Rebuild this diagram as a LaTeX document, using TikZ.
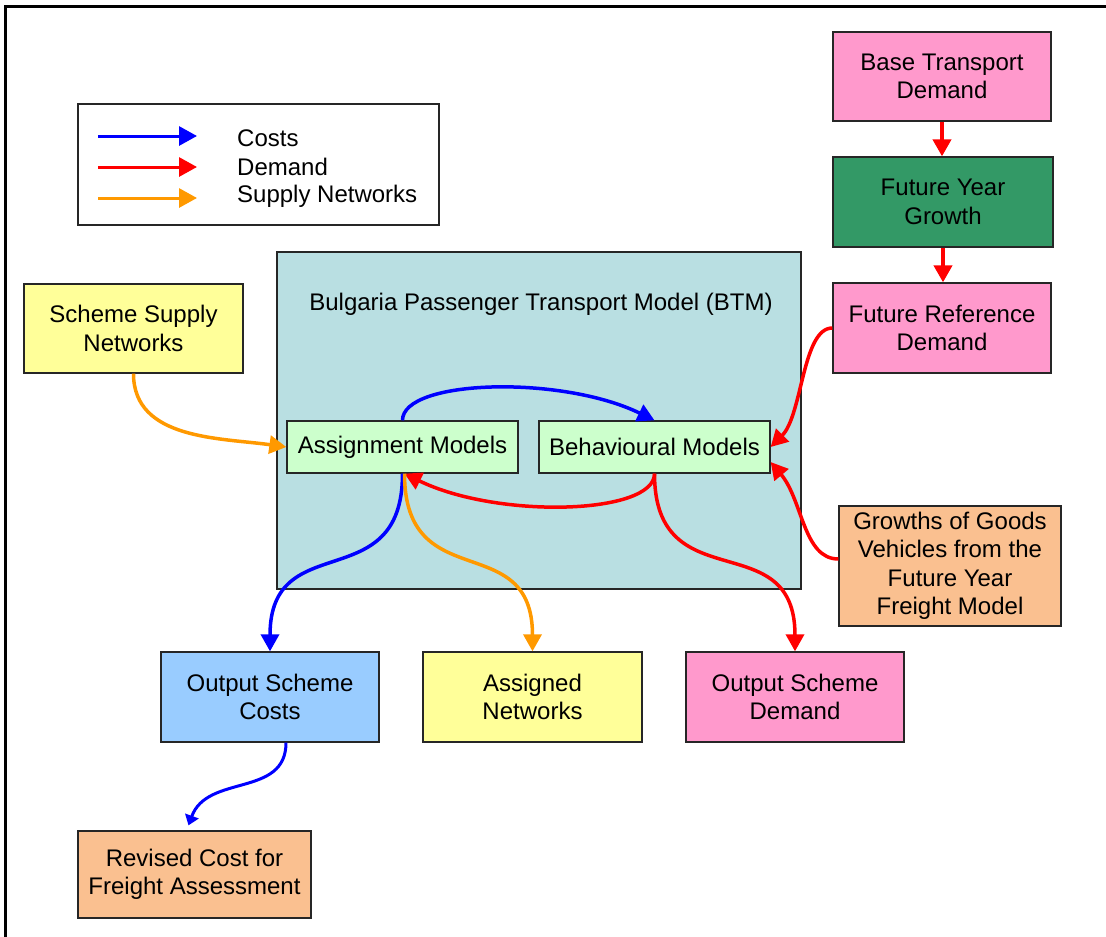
\documentclass[tikz,border=0pt]{standalone}
\usepackage{fontspec}
\setmainfont{Liberation Sans}
\usetikzlibrary{arrows.meta}

\definecolor{demandpink}{HTML}{FF99CC}
\definecolor{growthgreen}{HTML}{339966}
\definecolor{modelteal}{RGB}{185,223,226}
\definecolor{submodel}{HTML}{CCFFCC}
\definecolor{netyellow}{HTML}{FFFF99}
\definecolor{freightorange}{HTML}{FAC090}
\definecolor{costblue}{HTML}{99CCFF}
\definecolor{costline}{HTML}{0000FF}
\definecolor{demandline}{HTML}{FF0000}
\definecolor{supplyline}{HTML}{FF9900}

\begin{document}
\begin{tikzpicture}[x=1pt,y=1pt,
  txt/.style={font=\fontsize{24}{28.5}\selectfont},
  box/.style={draw=black!85, line width=1.3pt, align=center, inner sep=0pt, txt},
  sz/.style 2 args={minimum width=#1pt, minimum height=#2pt},
  conn/.style={line width=3.5pt, -{Triangle[length=17pt,width=18pt]}},
  smallconn/.style={line width=3pt, -{Triangle[length=10pt,width=14pt]}},
  key/.style={line width=3pt, -{Triangle[length=18pt,width=19pt]}},
]
\useasboundingbox (0,0) rectangle (1106,-937);

% page frame (open on the right and bottom)
\draw[line width=3pt] (5.5,-937) -- (5.5,-6.5) -- (1106,-6.5);

% legend
\node[draw=black!85, line width=1.5pt, sz={361}{121}] (legend) at (258.5,-164.5) {};
\coordinate (k1a) at (98,-136);  \coordinate (k1b) at (197,-136);
\coordinate (k2a) at (98,-167);  \coordinate (k2b) at (197,-167);
\coordinate (k3a) at (98,-198);  \coordinate (k3b) at (197,-198);
\draw[key, costline]   (k1a) -- (k1b);
\draw[key, demandline] (k2a) -- (k2b);
\draw[key, supplyline] (k3a) -- (k3b);
\node[txt, anchor=west, inner sep=0pt] (kcost)   at (237,-138) {Costs};
\node[txt, anchor=west, inner sep=0pt] (kdemand) at (237,-167) {Demand};
\node[txt, anchor=west, inner sep=0pt] (ksupply) at (237,-196) {Supply Networks};

% demand chain on the right
\node[box, fill=demandpink,  sz={218}{89}] (base)   at (942,-76.5) {Base Transport\\Demand};
\node[box, fill=growthgreen, sz={220}{90}] (growth) at (943,-202)  {Future Year\\Growth};
\node[box, fill=demandpink,  sz={218}{90}] (fref)   at (942,-328)  {Future Reference\\Demand};
\draw[conn, demandline, line width=4pt] (base.south) -- (base.south |- growth.north);
\draw[conn, demandline, line width=4pt] (growth.south) -- (growth.south |- fref.north);

% transport model and its sub-models
\node[box, fill=modelteal, sz={524}{337}] (btm) at (539,-420.5) {};
\node[txt] (btmlabel) at (541,-304) {Bulgaria Passenger Transport Model (BTM)};
\node[box, fill=submodel, sz={231}{52}] (assign) at (402.5,-447) {Assignment Models};
\node[box, fill=submodel, sz={231}{52}] (behav)  at (654.5,-447) {Behavioural Models};

% inputs
\node[box, fill=netyellow,     sz={219}{89}]  (scheme)  at (133.5,-328.5) {Scheme Supply\\Networks};
\node[box, fill=freightorange, sz={222}{120}] (goods)   at (950,-566)     {Growths of Goods\\Vehicles from the\\Future Year\\Freight Model};

% outputs
\node[box, fill=costblue,      sz={218}{90}] (outcost)   at (270,-697)   {Output Scheme\\Costs};
\node[box, fill=netyellow,     sz={219}{90}] (assigned)  at (532.5,-697) {Assigned\\Networks};
\node[box, fill=demandpink,    sz={218}{90}] (outdemand) at (795,-697)   {Output Scheme\\Demand};
\node[box, fill=freightorange, sz={233}{87}] (revised)   at (194.5,-874.5) {Revised Cost for\\Freight Assessment};

% connectors
\draw[conn, supplyline] (scheme.south) to[out=-90, in=172] (assign.west);
\draw[conn, costline] (assign.north) to[out=90, in=154, out distance=41pt, in distance=104pt] (behav.north);
\draw[conn, demandline] (behav.south) to[out=-90, in=-26, out distance=41pt, in distance=104pt] ([xshift=2pt]assign.south);
\draw[conn, costline] (assign.south) to[out=-90, in=90, looseness=1.45] (outcost.north);
\draw[conn, supplyline] ([xshift=2pt]assign.south) to[out=-90, in=90, looseness=1.45] (assigned.north);
\draw[conn, demandline] (behav.south) to[out=-90, in=90, looseness=1.45] (outdemand.north);
\draw[conn, demandline] (fref.west) to[out=180, in=45, out distance=30pt, in distance=45pt] (behav.east);
\draw[conn, demandline] ([yshift=7pt]goods.west) to[out=180, in=-50, out distance=35pt, in distance=50pt] ([yshift=-15pt]behav.east);
\draw[smallconn, costline] ([xshift=16pt]outcost.south) to[out=-90, in=70, looseness=1.1] ([xshift=-6pt,yshift=5pt]revised.north);
\end{tikzpicture}
\end{document}
